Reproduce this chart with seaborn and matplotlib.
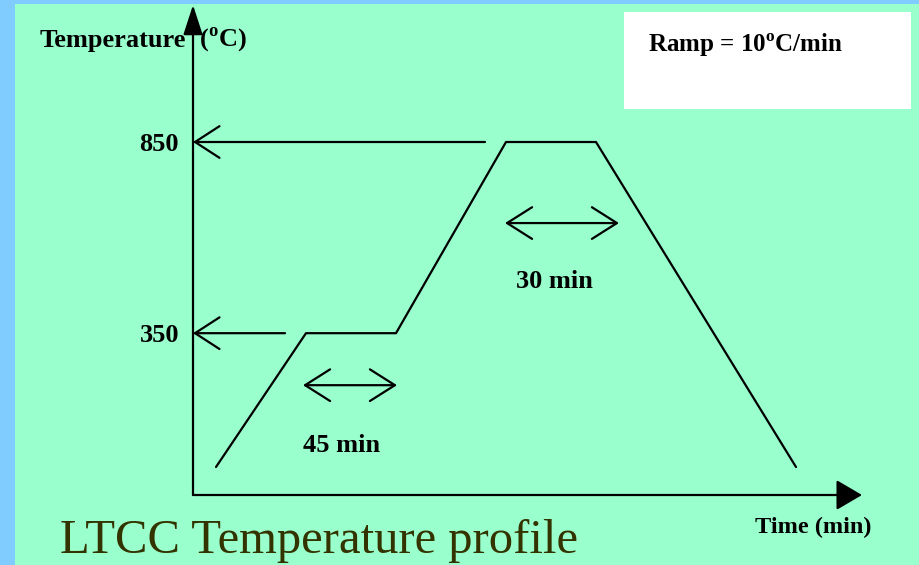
import matplotlib
matplotlib.use("Agg")
import matplotlib.pyplot as plt
from matplotlib.patches import Rectangle
import pandas as pd
import seaborn as sns

# schematic LTCC firing profile: time (min) vs temperature (deg C)
time_min = [0, 45, 90, 145, 190, 290]
temp_c = [0, 350, 350, 850, 850, 0]

# levels marked on the temperature axis
level_temps = [350, 850]
level_labels = ["350", "850"]
level_from = [34.5, 134.5]

# hold-time markers
hold_labels = ["45 min", "30 min"]
hold_start = [43.5, 144.5]
hold_end = [90.5, 201.5]
hold_arrow_temp = [214, 638]
hold_text_temp = [57, 484]

ramp_text = r"Ramp = 10$^{\rm o}$C/min"

sns.set_style("white")
plt.rcParams["font.family"] = ["Liberation Serif", "DejaVu Serif"]
plt.rcParams["mathtext.fontset"] = "custom"
plt.rcParams["mathtext.rm"] = "Liberation Serif:bold"
plt.rcParams["text.color"] = "black"
plt.rcParams["ytick.color"] = "black"

W, H = 920, 565
def fx(x):
    return x / W
def fy(y):
    return 1 - y / H

fig = plt.figure(figsize=(9.2, 5.65), dpi=100, facecolor="#80CCFF")
fig.patches.append(Rectangle((fx(15), 0), 1, fy(4), transform=fig.transFigure,
                             facecolor="#99FFCC", edgecolor="none", zorder=-2))
fig.patches.append(Rectangle((fx(624), fy(109)), fx(911) - fx(624), fy(12) - fy(109),
                             transform=fig.transFigure, facecolor="white",
                             edgecolor="none", zorder=-1))

ax = fig.add_axes([fx(193), fy(495), fx(862) - fx(193), fy(5) - fy(495)])
ax.set_facecolor("none")
ax.set_xlim(-11.5, 323)
ax.set_ylim(-73.2, 1208.3)

df = pd.DataFrame({"time": time_min, "temp": temp_c})
sns.lineplot(data=df, x="time", y="temp", sort=False, color="black", lw=1.6, ax=ax)

for s in ax.spines.values():
    s.set_visible(False)
ax.set_xlabel("")
ax.set_ylabel("")
ax.set_xticks([])
ax.set_yticks(level_temps, level_labels)
ax.tick_params(axis="y", length=0, pad=10, labelsize=19, labelcolor="black")
for lab in ax.get_yticklabels():
    lab.set_fontweight("bold")

# axes drawn as arrows
ax.annotate("", xy=(0, 1), xytext=(0, 0), xycoords="axes fraction",
            arrowprops=dict(arrowstyle="-|>,head_length=0.92,head_width=0.3", fc="black",
                            ec="black", lw=1.6, mutation_scale=20, shrinkA=0, shrinkB=0))
ax.annotate("", xy=(1, 0), xytext=(0, 0), xycoords="axes fraction",
            arrowprops=dict(arrowstyle="-|>,head_length=0.8,head_width=0.47", fc="black",
                            ec="black", lw=1.6, mutation_scale=20, shrinkA=0, shrinkB=0))

open_head = dict(color="black", lw=1.6, mutation_scale=20, shrinkA=0, shrinkB=0)
for T, t0 in zip(level_temps, level_from):
    ax.annotate("", xy=(-11.5, T), xytext=(t0, T),
                arrowprops=dict(arrowstyle="->,head_length=0.88,head_width=0.57", **open_head))

for lab, a, b, ta, tt in zip(hold_labels, hold_start, hold_end, hold_arrow_temp, hold_text_temp):
    ax.annotate("", xy=(b, ta), xytext=(a, ta),
                arrowprops=dict(arrowstyle="<->,head_length=0.9,head_width=0.57", **open_head))
    ax.text((a + b) / 2 - 4, tt, lab, ha="center", va="center", fontsize=19, fontweight="bold")

bold = dict(fontweight="bold", va="center")
fig.text(fx(40), fy(40), "Temperature", ha="left", fontsize=19, **bold)
fig.text(fx(199), fy(40), r"($^{\rm o}$C)", ha="left", fontsize=19, **bold)
fig.text(fx(813), fy(527), "Time (min)", ha="center", fontsize=17.5, **bold)
fig.text(fx(648), fy(45), ramp_text, ha="left", fontsize=18, **bold)
fig.text(fx(60), fy(541), "LTCC Temperature profile", ha="left", va="center",
         fontsize=35, color="#333300")

fig.savefig("out.png", dpi=100, facecolor=fig.get_facecolor())
